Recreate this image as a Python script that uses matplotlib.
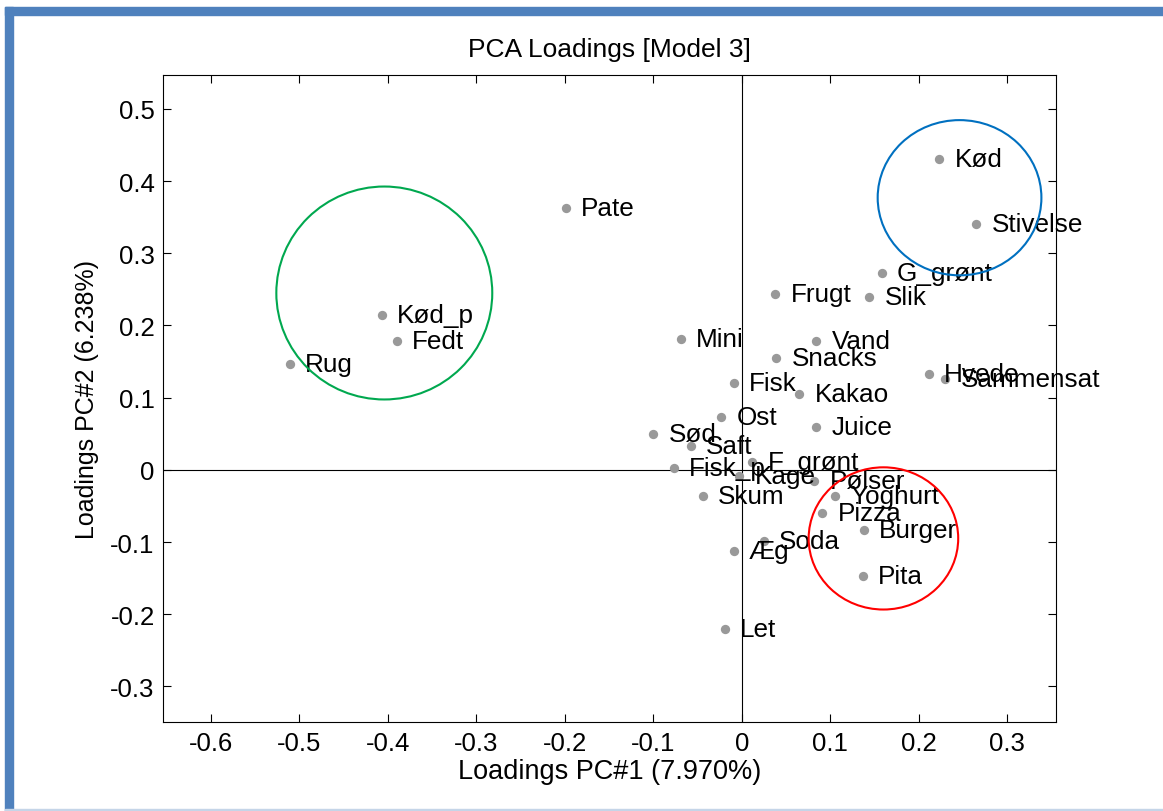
import matplotlib.pyplot as plt
from matplotlib.patches import Ellipse, Rectangle

plt.rcParams['font.family'] = ['Liberation Sans', 'DejaVu Sans']

# loadings
names = ['Kød', 'Stivelse', 'G_grønt', 'Slik', 'Frugt', 'Pate', 'Kød_p', 'Fedt', 'Rug',
         'Mini', 'Vand', 'Snacks', 'Fisk', 'Kakao', 'Hvede', 'Sammensat', 'Ost', 'Juice',
         'Sød', 'Saft', 'F_grønt', 'Fisk_p', 'Kage', 'Pølser', 'Yoghurt', 'Skum', 'Pizza',
         'Burger', 'Soda', 'Æg', 'Pita', 'Let']
pc1 = [0.223, 0.265, 0.158, 0.144, 0.038, -0.199, -0.407, -0.390, -0.511,
       -0.069, 0.084, 0.039, -0.009, 0.065, 0.211, 0.230, -0.023, 0.084,
       -0.100, -0.058, 0.012, -0.077, -0.003, 0.082, 0.105, -0.044, 0.091,
       0.138, 0.025, -0.009, 0.137, -0.019]
pc2 = [0.431, 0.341, 0.273, 0.240, 0.244, 0.363, 0.215, 0.179, 0.147,
       0.181, 0.179, 0.155, 0.120, 0.105, 0.133, 0.126, 0.073, 0.060,
       0.050, 0.033, 0.011, 0.003, -0.009, -0.016, -0.036, -0.036, -0.060,
       -0.084, -0.098, -0.113, -0.147, -0.220]

# highlighted groups: centre x, centre y, width, height, colour
groups = [(-0.404, 0.245, 0.244, 0.295, '#00A84F'),
          (0.246, 0.377, 0.185, 0.215, '#0070C0'),
          (0.160, -0.095, 0.169, 0.197, '#FF0000')]

fig = plt.figure(figsize=(11.63, 8.12), dpi=100)
ax = fig.add_axes([0.1402, 0.109, 0.7678, 0.7974])

ax.axhline(0, color='black', linewidth=0.8, zorder=1)
ax.axvline(0, color='black', linewidth=0.8, zorder=1)

ax.scatter(pc1, pc2, s=45, color='#999999', zorder=2, linewidths=0)
for name, x, y in zip(names, pc1, pc2):
    ax.annotate(name, (x, y), xytext=(11, 0), textcoords='offset points',
                va='center', ha='left', fontsize=18.8, zorder=3)

for cx, cy, w, h, c in groups:
    ax.add_patch(Ellipse((cx, cy), w, h, fill=False, edgecolor=c, linewidth=1.5, zorder=4))

ax.set_xlim(-0.654, 0.355)
ax.set_ylim(-0.350, 0.547)
ax.set_xticks([-0.6, -0.5, -0.4, -0.3, -0.2, -0.1, 0, 0.1, 0.2, 0.3])
ax.set_xticklabels(['-0.6', '-0.5', '-0.4', '-0.3', '-0.2', '-0.1', '0', '0.1', '0.2', '0.3'])
ax.set_yticks([-0.3, -0.2, -0.1, 0, 0.1, 0.2, 0.3, 0.4, 0.5])
ax.set_yticklabels(['-0.3', '-0.2', '-0.1', '0', '0.1', '0.2', '0.3', '0.4', '0.5'])
ax.tick_params(direction='in', length=6, width=0.8, top=True, right=True, labelsize=18.5, pad=6)
for sp in ax.spines.values():
    sp.set_linewidth(0.8)

ax.set_title('PCA Loadings [Model 3]', fontsize=19, pad=14)
ax.set_xlabel('Loadings PC#1 (7.970%)', fontsize=19.5, labelpad=2)
ax.set_ylabel('Loadings PC#2 (6.238%)', fontsize=18, labelpad=8)

# blue frame on the left and top, faint line at the bottom
fig.patches.append(Rectangle((5 / 1163, 0), 8 / 1163, 1 - 8 / 812, transform=fig.transFigure,
                             color='#4F81BD', zorder=0))
fig.patches.append(Rectangle((5 / 1163, 1 - 16 / 812), 1 - 5 / 1163, 8 / 812,
                             transform=fig.transFigure, color='#4F81BD', zorder=0))
fig.patches.append(Rectangle((5 / 1163, 0), 1, 2 / 812, transform=fig.transFigure,
                             color='#C5D5E8', zorder=0))

plt.savefig('out.png', dpi=100)
